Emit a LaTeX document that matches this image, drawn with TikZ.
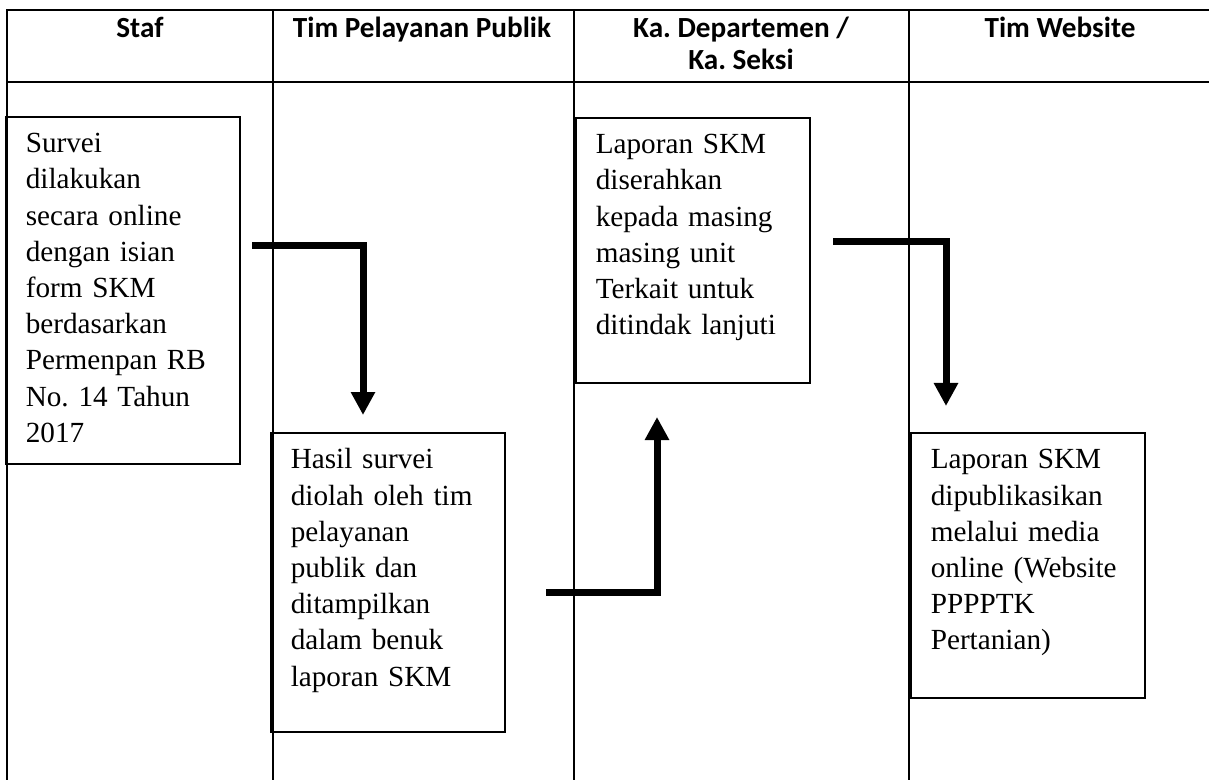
\documentclass[tikz,border=0pt]{standalone}
\usepackage{fontspec}
\setmainfont{Liberation Serif}
\newfontfamily\headfont{Carlito}
\usetikzlibrary{arrows.meta}
\frenchspacing

\begin{document}
\begin{tikzpicture}[x=0.5pt,y=-0.5pt,
  grid/.style={line width=1pt},
  head/.style={font=\headfont\bfseries\fontsize{14.6pt}{16pt}\selectfont, inner sep=0pt, anchor=base, align=center},
  box/.style={draw, line width=0.8pt, anchor=north west, align=left, text width=97pt, inner xsep=10pt, inner ysep=0pt, text height=18pt, font=\fontsize{14.6pt}{18.1pt}\selectfont},
  flow/.style={line width=3.5pt, -{Triangle[width=11.5pt,length=11.5pt]}}]
\useasboundingbox (0,0) rectangle (1209,780);
\draw[grid] (7,780) -- (7,10) -- (1209,10);
\draw[grid] (7,82) -- (1209,82);
\draw[grid] (273,10) -- (273,780);
\draw[grid] (574,10) -- (574,780);
\draw[grid] (909,10) -- (909,780);
\node[head] (hstaf) at (140,38) {Staf};
\node[head] (htim) at (422,38) {Tim Pelayanan Publik};
\node[head] (hka) at (741,70) {Ka. Departemen /\\Ka. Seksi};
\node[head] (hweb) at (1060,38) {Tim Website};
\node[box, text depth=155.5pt] (survei) at (5,116) {Survei\\dilakukan\\secara online\\dengan isian\\form SKM\\berdasarkan\\Permenpan RB\\No. 14 Tahun\\2017};
\node[box, text depth=131.5pt] (olah) at (270,432) {Hasil survei\\diolah oleh tim\\pelayanan\\publik dan\\ditampilkan\\dalam benuk\\laporan SKM};
\node[box, text depth=114.5pt] (serah) at (575,117) {Laporan SKM\\diserahkan\\kepada masing\\masing unit\\Terkait untuk\\ditindak lanjuti};
\node[box, text depth=114.5pt] (publik) at (910,432) {Laporan SKM\\dipublikasikan\\melalui media\\online (Website\\PPPPTK\\Pertanian)};
\coordinate (f1a) at (252,246);
\coordinate (f1b) at (363,415);
\coordinate (f2a) at (546,592);
\coordinate (f2b) at (657,417);
\coordinate (f3a) at (833,242);
\coordinate (f3b) at (946,406);
\draw[flow] (f1a) -| (f1b);
\draw[flow] (f2a) -| (f2b);
\draw[flow] (f3a) -| (f3b);
\end{tikzpicture}
\end{document}
